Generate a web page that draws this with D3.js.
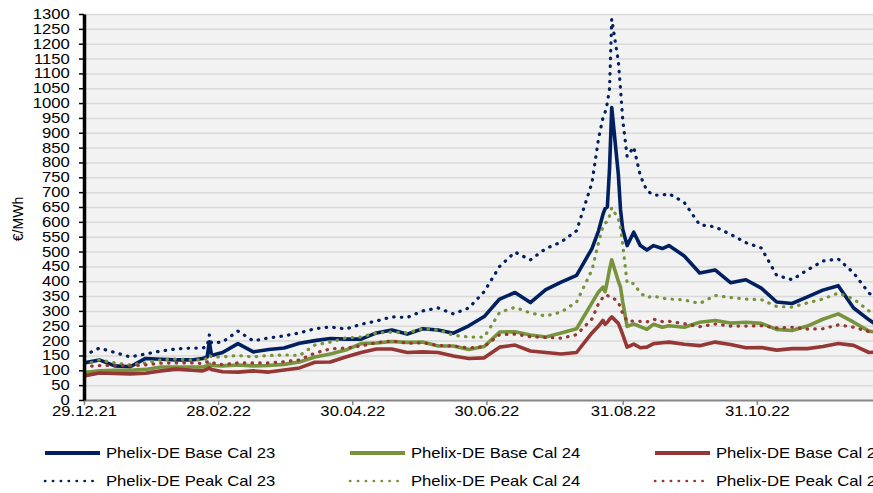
<!DOCTYPE html>
<html>
<head>
<meta charset="utf-8">
<script src="https://cdn.jsdelivr.net/npm/d3@7"></script>
<style>
  body { margin: 0; background: #fff; }
  svg { display: block; font-family: "Liberation Sans", Arial, sans-serif; }
</style>
</head>
<body>
<svg id="chart" width="873" height="493"></svg>
<script>
// sample dates (weekly, daily around the August spike)
const dates = ['2021-12-29','2022-01-05','2022-01-12','2022-01-19','2022-01-26','2022-02-02','2022-02-09','2022-02-16','2022-02-21','2022-02-23','2022-02-24','2022-02-25',
  '2022-03-02','2022-03-09','2022-03-16','2022-03-23','2022-03-30','2022-04-06','2022-04-13','2022-04-20','2022-04-27',
  '2022-05-04','2022-05-11','2022-05-18','2022-05-25','2022-06-01','2022-06-08','2022-06-15','2022-06-22','2022-06-29',
  '2022-07-06','2022-07-13','2022-07-20','2022-07-27','2022-08-03','2022-08-10','2022-08-17','2022-08-20','2022-08-22','2022-08-23','2022-08-24','2022-08-25','2022-08-26','2022-08-29','2022-08-30','2022-08-31',
  '2022-09-02','2022-09-05','2022-09-08','2022-09-11','2022-09-14','2022-09-18','2022-09-21','2022-09-28',
  '2022-10-05','2022-10-12','2022-10-19','2022-10-26','2022-11-02','2022-11-09','2022-11-16','2022-11-23','2022-11-30',
  '2022-12-07','2022-12-14','2022-12-21','2022-12-27'];

const base23 = [125,135,115,112,140,137,135,135,140,145,196,150,160,190,162,170,175,191,200,207,205,205,226,236,222,240,236,225,250,281,340,362,328,372,397,420,510,570,625,645,650,780,985,760,640,575,520,565,520,505,520,510,520,485,428,438,395,405,377,330,325,347,370,385,310,270,240];
const base24 = [92,98,100,100,103,111,111,111,111,115,121,116,115,118,115,116,120,128,145,155,168,190,192,197,194,195,182,182,170,180,229,230,219,212,226,240,327,364,380,365,400,440,472,400,380,330,248,256,247,238,255,245,250,245,262,268,259,262,258,238,234,249,272,290,262,232,225];
const base25 = [81,91,89,88,90,98,104,100,98,104,108,103,95,94,98,94,101,108,127,128,145,160,172,172,160,162,160,148,140,142,178,185,165,160,155,160,226,249,268,255,262,272,280,258,240,220,178,188,176,178,190,193,195,188,183,195,187,176,177,168,173,173,180,190,184,160,162];
const peak23 = [150,175,160,145,155,165,172,175,175,180,219,192,195,232,199,209,216,226,240,246,239,255,266,280,278,300,310,290,310,365,450,498,472,510,532,570,731,880,950,970,1000,1050,1283,1140,1047,943,820,852,755,705,690,690,695,665,590,583,558,530,512,420,405,438,468,475,428,360,330];
const peak24 = [118,135,125,118,125,135,138,135,135,140,152,145,145,150,145,150,152,150,185,195,209,212,226,229,226,240,236,218,212,212,295,312,293,283,296,330,438,530,585,596,600,620,648,610,580,522,394,392,360,345,350,343,340,337,325,352,345,340,338,315,313,327,340,360,340,300,280];
const peak25 = [112,116,117,115,118,124,125,125,123,128,131,126,119,125,125,125,129,135,158,172,175,182,193,199,191,193,184,182,175,180,220,222,213,211,208,220,273,325,345,354,352,348,347,330,310,290,266,266,265,263,272,264,265,257,247,256,249,249,250,243,245,239,240,253,245,230,229];

const seriesNames = ['Phelix-DE Base Cal 23','Phelix-DE Base Cal 24','Phelix-DE Base Cal 25',
                     'Phelix-DE Peak Cal 23','Phelix-DE Peak Cal 24','Phelix-DE Peak Cal 25'];
const xTickDates = ['2021-12-29','2022-02-28','2022-04-30','2022-06-30','2022-08-31','2022-10-31'];
const yTicks = d3.range(0, 1301, 50);

const parse = d3.utcParse('%Y-%m-%d');
const fmt = d3.utcFormat('%d.%m.%y');
const colors = ['#002060', '#77933c', '#953735'];
const stretch = 'scale(1.19,1)';

const series = [base23, base24, base25, peak23, peak24, peak25].map((vals, i) => ({
  name: seriesNames[i],
  color: colors[i % 3],
  dotted: i >= 3,
  points: vals.map((v, j) => ({ date: parse(dates[j]), value: v }))
}));

const svg = d3.select('#chart');
const plotL = 84, plotT = 14, plotB = 400, plotR = 891;

const x = d3.scaleUtc()
  .domain([parse('2021-12-29'), parse('2022-12-31')])
  .range([plotL, plotR]);
const y = d3.scaleLinear().domain([0, 1300]).range([plotB, plotT]);

// plot background
svg.append('rect')
  .attr('x', plotL).attr('y', plotT)
  .attr('width', plotR - plotL).attr('height', plotB - plotT)
  .attr('fill', '#f2f2f2');

// gridlines
const grid = svg.append('g')
  .attr('transform', `translate(${plotL},0)`)
  .call(d3.axisLeft(y).tickValues(yTicks.slice(1)).tickSize(-(plotR - plotL)).tickFormat(''));
grid.select('.domain').remove();
grid.selectAll('line').attr('stroke', '#d9d9d9').attr('stroke-width', 1.5);

svg.append('clipPath').attr('id', 'plot')
  .append('rect').attr('x', plotL).attr('y', 0).attr('width', plotR - plotL).attr('height', plotB + 2);

const line = d3.line().x(d => x(d.date)).y(d => y(d.value));

const lines = svg.append('g').attr('clip-path', 'url(#plot)');
series.forEach(s => {
  lines.append('path')
    .attr('d', line(s.points))
    .attr('fill', 'none')
    .attr('stroke', s.color)
    .attr('stroke-width', s.dotted ? 3.2 : 3.6)
    .attr('stroke-linejoin', 'round')
    .attr('stroke-linecap', 'round')
    .attr('stroke-dasharray', s.dotted ? '0.5 7.2' : null);
});

// x axis
const xAxis = svg.append('g')
  .attr('transform', `translate(0,${plotB})`)
  .call(d3.axisBottom(x).tickValues(xTickDates.map(parse)).tickFormat(fmt)
    .tickSizeInner(5).tickSizeOuter(0).tickPadding(1));
xAxis.select('.domain').attr('stroke', '#868686').attr('stroke-width', 2);
xAxis.selectAll('.tick line').attr('stroke', '#868686').attr('stroke-width', 1.5);
xAxis.selectAll('text').attr('fill', '#000').attr('font-size', 14)
  .attr('font-family', '"Liberation Sans", Arial, sans-serif')
  .attr('transform', stretch);

// y axis
const yAxis = svg.append('g')
  .attr('transform', `translate(${plotL},0)`)
  .call(d3.axisLeft(y).tickValues(yTicks).tickFormat(d3.format('d'))
    .tickSizeInner(5).tickSizeOuter(0).tickPadding(7));
yAxis.select('.domain').attr('stroke', '#000').attr('stroke-width', 3.5);
yAxis.selectAll('.tick line').attr('stroke', '#000').attr('stroke-width', 1.5);
yAxis.selectAll('text').attr('fill', '#000').attr('font-size', 14)
  .attr('font-family', '"Liberation Sans", Arial, sans-serif')
  .attr('transform', stretch);

// y label
svg.append('text')
  .attr('transform', 'translate(23,219) rotate(-90)')
  .attr('text-anchor', 'middle')
  .attr('font-size', 14)
  .text('€/MWh');

// legend
const legendX = [45, 350, 655];
const legendY = [453, 481];
series.forEach((s, i) => {
  const lx = legendX[i % 3], ly = legendY[Math.floor(i / 3)];
  const g = svg.append('g').attr('transform', `translate(${lx},${ly})`);
  g.append('line')
    .attr('x1', 0).attr('x2', 55).attr('y1', 0).attr('y2', 0)
    .attr('stroke', s.color)
    .attr('stroke-width', s.dotted ? 2.6 : 4)
    .attr('stroke-linecap', s.dotted ? 'round' : 'butt')
    .attr('stroke-dasharray', s.dotted ? '0.3 7.6' : null);
  g.append('text')
    .attr('transform', `translate(61,5) ${stretch}`)
    .attr('font-size', 14)
    .text(s.name);
});
</script>
</body>
</html>
